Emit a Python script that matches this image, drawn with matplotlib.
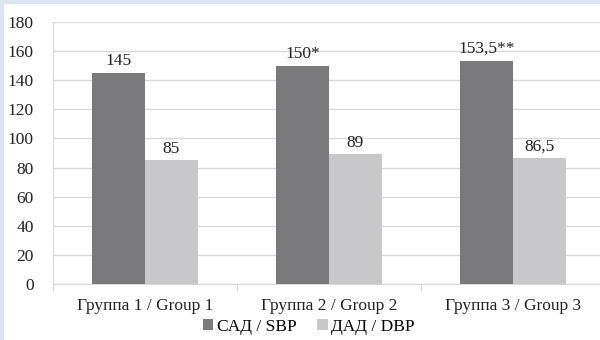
import matplotlib.pyplot as plt
import numpy as np

# data
groups = ['Группа 1 / Group 1', 'Группа 2 / Group 2', 'Группа 3 / Group 3']
sbp = [145, 150, 153.5]
dbp = [85, 89, 86.5]
sbp_labels = ['145', '150*', '153,5**']
dbp_labels = ['85', '89', '86,5']
yticks = [0, 20, 40, 60, 80, 100, 120, 140, 160, 180]

plt.rcParams['font.family'] = ['Liberation Serif', 'DejaVu Serif']
fs = 12.5

fig = plt.figure(figsize=(6, 3.4), dpi=100)
fig.patch.set_facecolor('#dce6f2')
# white panel inside light blue frame
bg = fig.add_axes([0.007, 0, 1.0, 0.988])
bg.set_facecolor('white')
bg.set_xticks([])
bg.set_yticks([])
for s in bg.spines.values():
    s.set_visible(False)

ax = fig.add_axes([53 / 600, 1 - 284 / 340, 552 / 600, 262 / 340])
ax.set_facecolor('none')

x = np.arange(len(groups)) + 0.5
w = 0.288
b1 = ax.bar(x - w / 2, sbp, w, color='#7a797b', label='САД / SBP', zorder=3)
b2 = ax.bar(x + w / 2, dbp, w, color='#c8c8ca', label='ДАД / DBP', zorder=3)

for rect, t in zip(b1, sbp_labels):
    ax.text(rect.get_x() + rect.get_width() / 2, rect.get_height() + 2.5, t,
            ha='center', va='bottom', fontsize=fs, color='#222222')
for rect, t in zip(b2, dbp_labels):
    ax.text(rect.get_x() + rect.get_width() / 2, rect.get_height() + 2.5, t,
            ha='center', va='bottom', fontsize=fs, color='#222222')

ax.set_ylim(0, 180)
ax.set_xlim(0, 3)
ax.set_yticks(yticks)
ax.set_yticklabels([str(v) for v in yticks], fontsize=fs, color='#222222')
ax.yaxis.grid(True, color='#d9d9d9', linewidth=1, zorder=0)
ax.tick_params(axis='y', length=0, pad=14)

ax.set_xticks([0, 1, 2, 3])
ax.set_xticklabels([])
ax.set_xticks(x, minor=True)
ax.set_xticklabels(groups, minor=True, fontsize=fs, color='#222222')
ax.tick_params(axis='x', which='major', length=5, color='#d9d9d9')
ax.tick_params(axis='x', which='minor', length=0, pad=10)

for side in ['top', 'right']:
    ax.spines[side].set_visible(False)
ax.spines['left'].set_color('#d9d9d9')
ax.spines['bottom'].set_color('#d9d9d9')

fig.legend(handles=[b1, b2], loc='center', bbox_to_anchor=(309 / 600, 1 - 327 / 340),
           ncol=2, frameon=False, fontsize=fs, handlelength=0.6, handleheight=0.6,
           handletextpad=0.2, columnspacing=1.2)

fig.savefig('out.png', dpi=100, facecolor=fig.get_facecolor())
